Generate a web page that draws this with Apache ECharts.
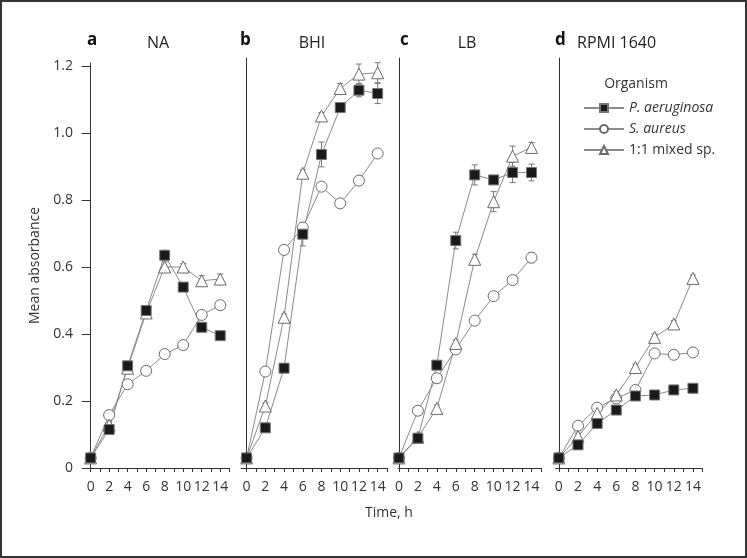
<!DOCTYPE html>
<html>
<head>
<meta charset="utf-8">
<script src="https://cdn.jsdelivr.net/npm/echarts@6/dist/echarts.min.js"></script>
<style>html,body{margin:0;padding:0;background:#fff}#c{width:747px;height:558px}</style>
</head>
<body>
<div id="c"></div>
<script>
// ---- data ----
const times = [0, 2, 4, 6, 8, 10, 12, 14];
const panels = ['NA', 'BHI', 'LB', 'RPMI 1640'];
const panelLetters = ['a', 'b', 'c', 'd'];
const organisms = ['P. aeruginosa', 'S. aureus', '1:1 mixed sp.'];
const yTicks = [0, 0.2, 0.4, 0.6, 0.8, 1.0, 1.2];
const xTicks = [0,1,2,3,4,5,6,7,8,9,10,11,12,13,14,15];
const xLabels = [0, 2, 4, 6, 8, 10, 12, 14];

const paNA  = [0.03, 0.115, 0.305, 0.47, 0.635, 0.54, 0.42, 0.395];
const saNA  = [0.03, 0.158, 0.25, 0.29, 0.34, 0.367, 0.457, 0.486];
const mxNA  = [0.03, 0.128, 0.298, 0.463, 0.6, 0.6, 0.559, 0.564];
const paBHI = [0.03, 0.12, 0.298, 0.698, 0.936, 1.076, 1.128, 1.118];
const saBHI = [0.03, 0.288, 0.651, 0.718, 0.84, 0.79, 0.858, 0.939];
const mxBHI = [0.03, 0.185, 0.45, 0.88, 1.051, 1.133, 1.176, 1.18];
const paLB  = [0.03, 0.089, 0.307, 0.679, 0.875, 0.86, 0.882, 0.882];
const saLB  = [0.03, 0.171, 0.268, 0.354, 0.44, 0.513, 0.561, 0.628];
const mxLB  = [0.03, 0.092, 0.178, 0.372, 0.623, 0.795, 0.931, 0.957];
const paRP  = [0.03, 0.069, 0.133, 0.173, 0.215, 0.218, 0.233, 0.238];
const saRP  = [0.03, 0.126, 0.18, 0.208, 0.233, 0.342, 0.338, 0.345];
const mxRP  = [0.03, 0.094, 0.163, 0.218, 0.3, 0.39, 0.43, 0.566];

const errPaNA  = [0.005, 0.01, 0.01, 0.01, 0.015, 0.01, 0.01, 0.01];
const errSaNA  = [0.005, 0.01, 0.01, 0.005, 0.005, 0.005, 0.01, 0.01];
const errMxNA  = [0.005, 0.01, 0.01, 0.01, 0.015, 0.01, 0.015, 0.015];
const errPaBHI = [0.005, 0.01, 0.01, 0.035, 0.037, 0.01, 0.02, 0.03];
const errSaBHI = [0.005, 0.01, 0.01, 0.01, 0.01, 0.01, 0.01, 0.01];
const errMxBHI = [0.005, 0.01, 0.01, 0.01, 0.01, 0.015, 0.03, 0.03];
const errPaLB  = [0.005, 0.01, 0.01, 0.025, 0.03, 0.01, 0.03, 0.025];
const errSaLB  = [0.005, 0.01, 0.01, 0.01, 0.01, 0.01, 0.01, 0.015];
const errMxLB  = [0.005, 0.01, 0.01, 0.01, 0.015, 0.03, 0.03, 0.015];
const errPaRP  = [0.005, 0.005, 0.01, 0.01, 0.01, 0.005, 0.005, 0.01];
const errSaRP  = [0.005, 0.01, 0.01, 0.01, 0.01, 0.01, 0.01, 0.01];
const errMxRP  = [0.005, 0.01, 0.01, 0.01, 0.01, 0.01, 0.01, 0.01];

const values = [[paNA, saNA, mxNA], [paBHI, saBHI, mxBHI], [paLB, saLB, mxLB], [paRP, saRP, mxRP]];
const errors = [[errPaNA, errSaNA, errMxNA], [errPaBHI, errSaBHI, errMxBHI], [errPaLB, errSaLB, errMxLB], [errPaRP, errSaRP, errMxRP]];

// ---- layout ----
const FONT = '"Open Sans", "Noto Sans", sans-serif';
const TXT = '#333';
const gridDefs = [
  {left: 86, width: 143.5, top: 63, xmin: -0.5, ymax: 1.209},
  {left: 241, width: 146, top: 58, xmin: -0.6, ymax: 1.224},
  {left: 398, width: 143, top: 58, xmin: -0.1, ymax: 1.224},
  {left: 555.5, width: 147, top: 58, xmin: -0.35, ymax: 1.224}
];
const styles = [
  {symbol: 'rect', symbolSize: 10, fill: '#1a1a1a', border: '#777'},
  {symbol: 'circle', symbolSize: 11, fill: '#fff', border: '#6a6a6a'},
  {symbol: 'triangle', symbolSize: 12, fill: '#fff', border: '#6a6a6a'}
];
const LINE = '#8a8a8a';

const grid = [], xAxis = [], yAxis = [], series = [];
gridDefs.forEach((g, i) => {
  grid.push({left: g.left, width: g.width, top: g.top, bottom: 90, containLabel: false});
  xAxis.push({
    type: 'value', gridIndex: i, min: g.xmin, max: 15,
    axisLine: {show: true, lineStyle: {color: TXT, width: 1}},
    axisTick: {show: true, length: 4, customValues: xTicks, lineStyle: {color: TXT}},
    axisLabel: {show: true, customValues: xLabels, fontSize: 14, color: TXT, fontFamily: FONT, margin: 12},
    splitLine: {show: false}
  });
  const first = i === 0;
  yAxis.push({
    type: 'value', gridIndex: i, min: 0, max: g.ymax,
    axisLine: {show: true, lineStyle: {color: TXT, width: 1}},
    axisTick: {show: first, length: 9, customValues: yTicks, lineStyle: {color: TXT}},
    axisLabel: {show: first, customValues: yTicks, fontSize: 14, color: TXT, fontFamily: FONT, margin: 13,
      formatter: v => v === 0 ? '0' : v.toFixed(1)},
    splitLine: {show: false},
    name: first ? 'Mean absorbance' : '',
    nameLocation: 'middle', nameGap: 44,
    nameTextStyle: {fontSize: 14, color: TXT, fontFamily: FONT}
  });
  // error bars first (below)
  [0, 1, 2].forEach(k => {
    series.push({
      type: 'custom', xAxisIndex: i, yAxisIndex: i, z: 1, silent: true,
      data: times.map((t, j) => [t, values[i][k][j], errors[i][k][j]]),
      encode: {x: 0, y: 1},
      renderItem: (params, api) => {
        const x = api.value(0), v = api.value(1), e = api.value(2);
        const top = api.coord([x, v + e]), bot = api.coord([x, v - e]);
        const s = {stroke: '#777', lineWidth: 1};
        return {type: 'group', children: [
          {type: 'line', shape: {x1: top[0], y1: top[1], x2: bot[0], y2: bot[1]}, style: s},
          {type: 'line', shape: {x1: top[0] - 3, y1: top[1], x2: top[0] + 3, y2: top[1]}, style: s},
          {type: 'line', shape: {x1: bot[0] - 3, y1: bot[1], x2: bot[0] + 3, y2: bot[1]}, style: s}
        ]};
      }
    });
  });
  [1, 2, 0].forEach(k => {
    const st = styles[k];
    series.push({
      type: 'line', name: organisms[k], xAxisIndex: i, yAxisIndex: i, z: 3,
      data: times.map((t, j) => [t, values[i][k][j]]),
      symbol: st.symbol, symbolSize: st.symbolSize, showSymbol: true,
      lineStyle: {color: LINE, width: 1},
      itemStyle: {color: st.fill, borderColor: st.border, borderWidth: 1},
      emphasis: {disabled: true}
    });
  });
});

const titleTexts = [];
const letterX = [87, 240, 400, 555];
const nameX = [158, 312, 467, 577];
const nameAlign = ['center', 'center', 'center', 'left'];
panels.forEach((p, i) => {
  titleTexts.push({type: 'text', left: letterX[i], top: 32,
    style: {text: panelLetters[i], font: 'bold 17px ' + FONT, fill: '#111'}});
  titleTexts.push({type: 'text', x: nameX[i], y: 43,
    style: {text: p, font: '16px ' + FONT, fill: '#222', align: nameAlign[i], verticalAlign: 'middle'}});
});

const option = {
  animation: false,
  backgroundColor: '#fff',
  grid, xAxis, yAxis, series,
  legend: {
    data: organisms, orient: 'vertical', left: 578, top: 96,
    itemWidth: 40, itemHeight: 10, itemGap: 7,
    textStyle: {fontSize: 14, color: TXT, fontFamily: FONT, rich: {i: {fontStyle: 'italic', fontSize: 14, color: TXT, fontFamily: FONT}}},
    formatter: n => n === '1:1 mixed sp.' ? n : '{i|' + n + '}',
    selectedMode: false
  },
  graphic: [
    {type: 'rect', shape: {x: 1, y: 1, width: 745, height: 556}, style: {fill: 'none', stroke: '#333', lineWidth: 2}},
    {type: 'text', x: 636, y: 84, style: {text: 'Organism', font: '14px ' + FONT, fill: TXT, align: 'center', verticalAlign: 'middle'}},
    {type: 'text', x: 389, y: 513, style: {text: 'Time, h', font: '14px ' + FONT, fill: TXT, align: 'center', verticalAlign: 'middle'}}
  ].concat(titleTexts)
};

const chart = echarts.init(document.getElementById('c'), null, {renderer: 'canvas'});
chart.setOption(option);
</script>
</body>
</html>
